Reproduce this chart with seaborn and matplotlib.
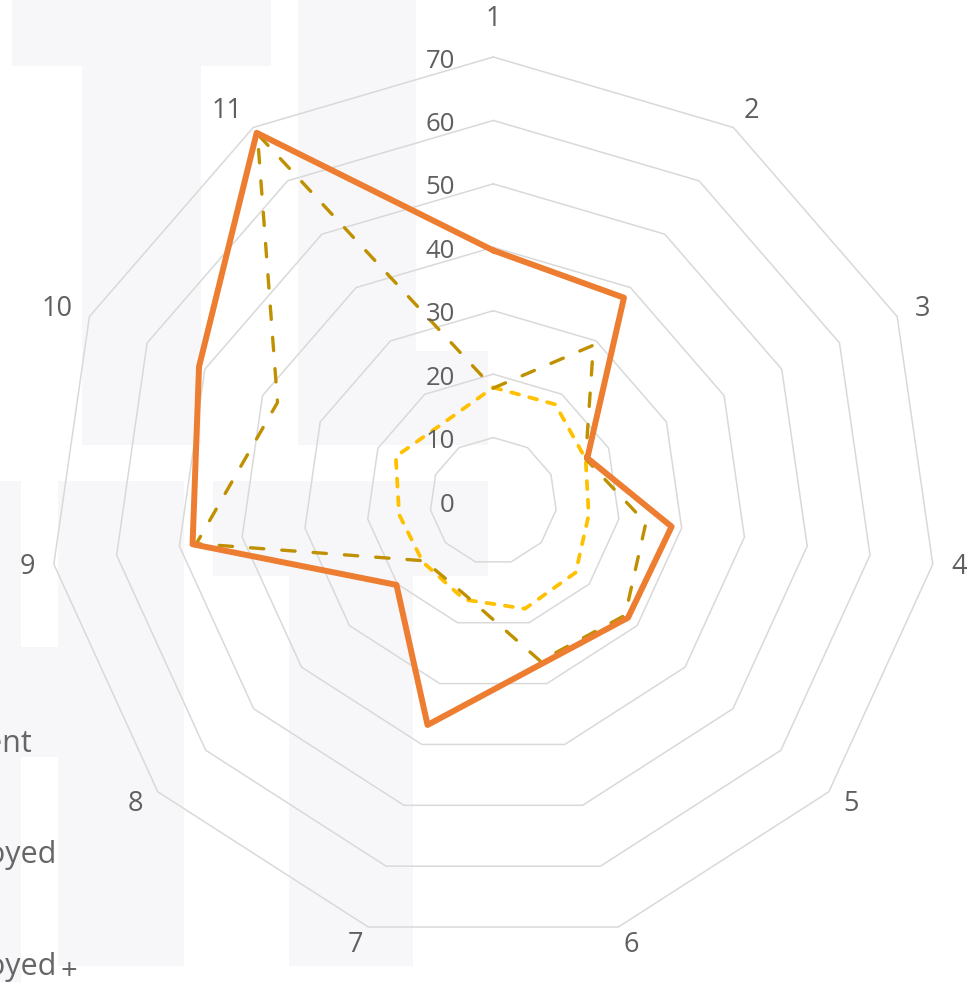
import numpy as np
import pandas as pd
import matplotlib
matplotlib.use("Agg")
import matplotlib.pyplot as plt
from matplotlib.patches import Rectangle
import seaborn as sns

# ---------------- data ----------------
categories = ["1", "2", "3", "4", "5", "6", "7", "8", "9", "10", "11"]
series_names = ["Self-employed", "Employed", "Student"]
orange_vals = [39.5, 38.1, 16.3, 28.4, 28.1, 26.8, 36.8, 20.2, 47.9, 51.0, 69.0]
darkyellow_vals = [17.8, 29.2, 16.0, 24.3, 27.5, 26.3, 15.5, 14.4, 47.3, 37.4, 68.8]
yellow_vals = [17.9, 18.1, 16.0, 15.2, 17.2, 17.7, 16.2, 14.7, 15.0, 16.9, 14.6]
tick_values = [0, 10, 20, 30, 40, 50, 60, 70]
legend_labels = ["Student", "Employed", "Employed"]

# ---------------- style ----------------
sns.set_theme(style="white")
plt.rcParams["font.family"] = ["Open Sans", "DejaVu Sans"]
plt.rcParams["lines.scale_dashes"] = False

W, H = 978, 982
fig = plt.figure(figsize=(W / 100, H / 100), dpi=100)
fig.patch.set_facecolor("white")

# watermark blocks (figure pixel coords, top-left origin)
bg = "#f7f7f9"
blocks = [(12, 0, 271, 66), (82, 66, 201, 445), (298, 0, 416, 445), (416, 351, 488, 445),
          (0, 481, 20.7, 982), (58.3, 481, 184.5, 966), (20.7, 647, 58.3, 757),
          (213, 481, 488, 576), (289, 576, 413.5, 966)]
for x0, y0, x1, y1 in blocks:
    fig.add_artist(Rectangle((x0 / W, 1 - y1 / H), (x1 - x0) / W, (y1 - y0) / H,
                             transform=fig.transFigure, facecolor=bg, edgecolor="none", zorder=-5))

cx, cy, R = 493.3, 501.0, 444.0
ax = fig.add_axes([(cx - R) / W, (H - cy - R) / H, 2 * R / W, 2 * R / H], projection="polar")
ax.set_facecolor("none")
ax.set_theta_zero_location("N")
ax.set_theta_direction(-1)
ax.set_ylim(0, 70)
ax.grid(False)
ax.spines["polar"].set_visible(False)
ax.set_xticks([])
ax.set_yticks([])

n = len(categories)
theta = np.arange(n) * 2 * np.pi / n
theta_closed = np.append(theta, 2 * np.pi)

# polygon grid rings
for v in tick_values[1:]:
    ax.plot(theta_closed, [v] * (n + 1), color="#d9d9d9", lw=1.1, zorder=1, clip_on=False)

# long-form data
rows = []
for name, vals in zip(series_names, [orange_vals, darkyellow_vals, yellow_vals]):
    vv = list(vals) + [vals[0]]
    for t, v in zip(theta_closed, vv):
        rows.append({"theta": t, "value": v, "series": name})
df = pd.DataFrame(rows)

palette = {"Self-employed": "#ed7d31", "Employed": "#bf9000", "Student": "#ffc000"}
dashes = {"Self-employed": "", "Employed": (9.6, 13.0), "Student": (5.8, 7.6)}
hue_order = ["Student", "Employed", "Self-employed"]
sns.lineplot(data=df, x="theta", y="value", hue="series", style="series",
             hue_order=hue_order, style_order=hue_order, palette=palette, dashes=dashes,
             sort=False, estimator=None, legend=False, ax=ax)
widths = {"Student": 2.7, "Employed": 2.4, "Self-employed": 4.3}
for line, name in zip(ax.lines[len(tick_values) - 1:], hue_order):
    line.set_linewidth(widths[name])
    line.set_dash_capstyle("round")
    line.set_solid_joinstyle("round")
    line.set_solid_capstyle("round")
    line.set_zorder(3)
    line.set_clip_on(False)
ax.set_xlabel("")
ax.set_ylabel("")

txt = "#5f5f5f"
# radial tick labels
for v in tick_values:
    ax.annotate(str(v), xy=(0, v), xycoords="data", xytext=(-27.6, -2.9),
                textcoords="offset points", ha="right", va="center",
                fontsize=18.5, color=txt, zorder=4)

# category labels
for i, (t, lab) in enumerate(zip(theta, categories)):
    s = np.sin(t)
    ha = "left" if s > 0.01 else ("right" if s < -0.01 else "center")
    r = 76 if i == 0 else 73
    ax.text(t, r, lab, ha=ha, va="center", fontsize=19.5, color=txt, clip_on=False)

# legend texts (cut off by the figure's left edge)
leg_color = "#666666"
fig.text(32.3 / W, 1 - 751.7 / H, legend_labels[0], ha="right", va="baseline",
         fontsize=22, color=leg_color)
fig.text(56.7 / W, 1 - 863 / H, legend_labels[1], ha="right", va="baseline",
         fontsize=22, color=leg_color)
fig.text(56.7 / W, 1 - 975 / H, legend_labels[2], ha="right", va="baseline",
         fontsize=22, color=leg_color)
fig.text(60.5 / W, 1 - 972 / H, "+", ha="left", va="center", fontsize=21, color=leg_color)

fig.savefig("out.png", dpi=100)
